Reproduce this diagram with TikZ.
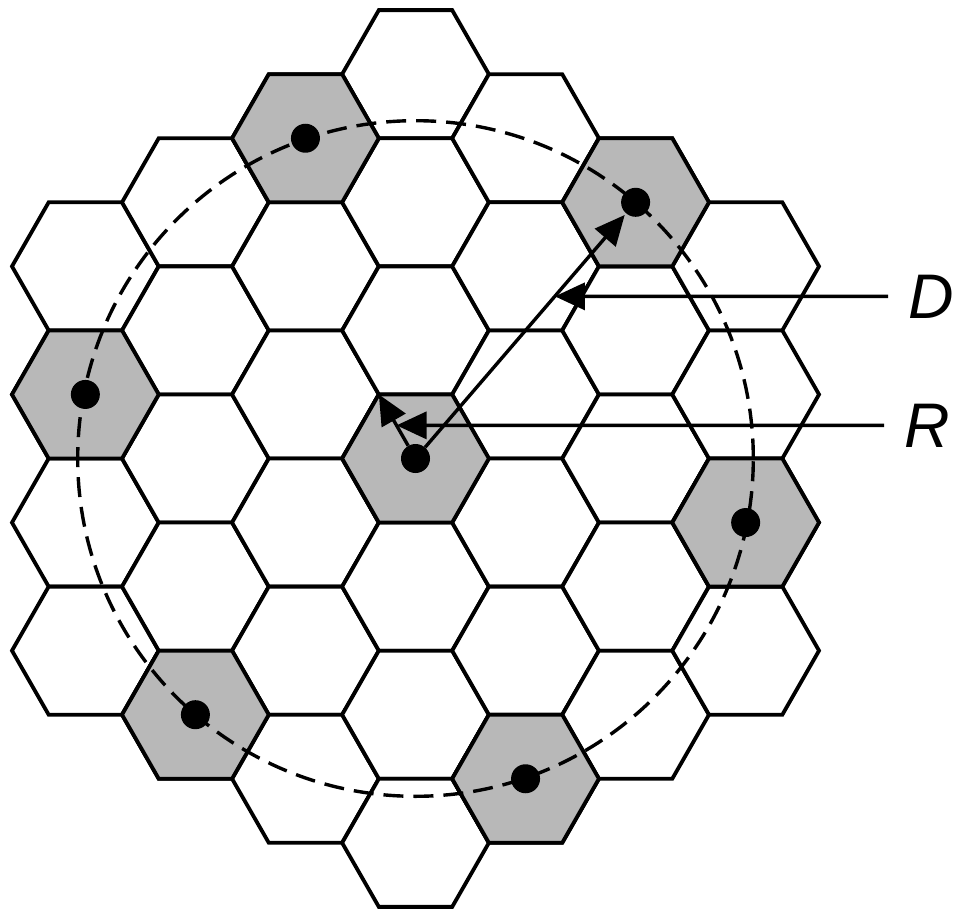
\documentclass[tikz,border=0pt]{standalone}
\usepackage{fontspec}
\setmainfont{Liberation Sans}
\usetikzlibrary{arrows.meta,calc}
\begin{document}
\begin{tikzpicture}[x=1pt,y=-1pt,
  hexcell/.style={draw=black, line width=3.8pt, line join=miter, fill=white},
  cochan/.style={draw=black, line width=3.8pt, line join=miter, fill=black!28},
  bs/.style={circle, fill=black, inner sep=0pt, minimum size=29pt},
  arr/.style={line width=3.4pt, -{Triangle[length=30pt,width=27pt]}},
  lead/.style={line width=3.4pt, -{Triangle[length=30pt,width=27pt]}},
  reuse/.style={line width=3.4pt, dash pattern=on 20pt off 10pt},
  lbl/.style={font=\itshape\fontsize{63}{63}\selectfont, inner sep=0pt, anchor=base west}]
\useasboundingbox (0,0) rectangle (961,912);
\def\S{73.37}\def\HE{36.68}\def\HH{64.05}\def\DX{110.05}\def\RH{128.1}
\def\OX{415.5}\def\OY{458.5}
% plain cells
\foreach \q in {-3,...,3} {
  \foreach \r in {-3,...,3} {
    \pgfmathtruncatemacro\ok{(abs(\q+\r)<=3)}
    \ifnum\ok=1
      \pgfmathsetmacro\cx{\OX+\DX*\q}
      \pgfmathsetmacro\cy{\OY+\RH*(\r+\q/2)}
      \draw[hexcell] (\cx-\S,\cy) -- (\cx-\HE,\cy-\HH) -- (\cx+\HE,\cy-\HH)
        -- (\cx+\S,\cy) -- (\cx+\HE,\cy+\HH) -- (\cx-\HE,\cy+\HH) -- cycle;
    \fi
  }
}
% co-channel cells
\foreach \q/\r/\n in {0/0/0, -1/-2/1, 2/-3/2, -3/1/3, 3/-1/4, -2/3/5, 1/2/6} {
  \pgfmathsetmacro\cx{\OX+\DX*\q}
  \pgfmathsetmacro\cy{\OY+\RH*(\r+\q/2)}
  \draw[cochan] (\cx-\S,\cy) -- (\cx-\HE,\cy-\HH) -- (\cx+\HE,\cy-\HH)
    -- (\cx+\S,\cy) -- (\cx+\HE,\cy+\HH) -- (\cx-\HE,\cy+\HH) -- cycle;
  \coordinate (p\n) at (\cx,\cy);
}
% reuse circle
\draw[reuse] (p0) circle[radius=337.8pt];
% base stations
\foreach \n in {0,...,6} { \node[bs] (c\n) at (p\n) {}; }
% cell vertex for R
\coordinate (v) at (\OX-\HE,\OY-\HH);
% D and R
\draw[arr, shorten >=2pt] (c0) -- (c2);
\draw[arr] (c0) -- (v);
% labels
\node[lbl] (labD) at (908,318) {D};
\node[lbl] (labR) at (904,447) {R};
\coordinate (dtip) at (intersection of c0.center--c2.center and labD.west--labD.center);
\coordinate (rtip) at (intersection of c0.center--v and labR.west--labR.center);
\draw[lead] ([xshift=-20pt]labD.west) -- (dtip);
\draw[lead] ([xshift=-20pt]labR.west) -- (rtip);
\end{tikzpicture}
\end{document}
